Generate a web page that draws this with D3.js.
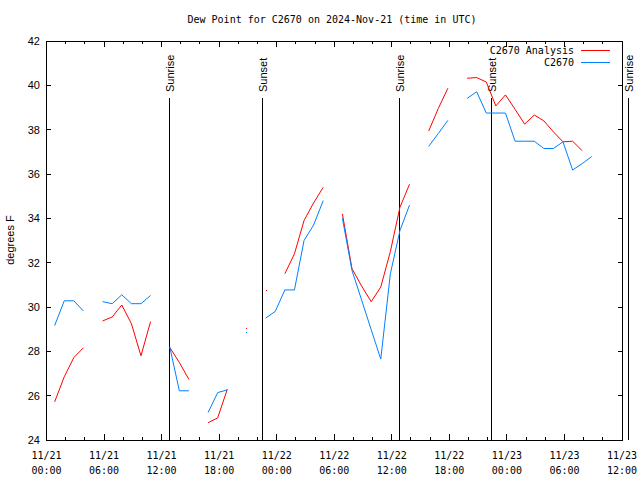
<!DOCTYPE html>
<html><head><meta charset="utf-8">
<script src="https://cdn.jsdelivr.net/npm/d3@7"></script>
<style>body{margin:0;background:#fff}svg{display:block}</style>
</head><body>
<svg id="c" width="640" height="480"></svg>
<script>
// Hourly observations at HH:51 UTC starting 2024-11-21 00:51
const startTime = "2024-11-21T00:51:00Z";
const analysis = [25.72,26.85,27.72,28.16,null,29.37,29.55,30.09,29.25,27.8,29.34,null,
  28.18,27.5,26.73,null,24.78,25.0,26.29,null,29.05,null,30.77,null,31.5,32.4,33.9,34.7,35.4,
  null,34.2,31.73,30.95,30.24,30.9,32.5,34.5,35.54,null,37.94,38.96,39.87,null,
  40.32,40.35,40.15,39.07,39.57,38.92,38.25,38.66,38.4,37.9,37.45,37.48,37.05,null];
const observed = [29.16,30.28,30.28,29.82,null,30.24,30.15,30.55,30.15,30.15,30.52,null,
  28.2,26.22,26.22,null,25.24,26.14,26.26,null,28.89,null,29.5,29.8,30.77,30.77,33.0,33.7,34.8,
  null,34.0,31.65,30.32,28.98,27.65,31.5,33.45,34.6,null,37.25,37.83,38.42,null,
  39.41,39.71,38.75,38.75,38.75,37.48,37.48,37.48,37.15,37.15,37.45,36.18,36.47,36.79];
const seriesNames = ["C2670 Analysis","C2670"];
const seriesColors = ["#ff0000","#0080ff"];
const eventNames = ["Sunrise","Sunset","Sunrise","Sunset","Sunrise"];
const eventTimes = ["2024-11-21T12:48:00Z","2024-11-21T22:30:00Z","2024-11-22T12:46:00Z","2024-11-22T22:20:00Z","2024-11-23T12:36:00Z"];
const yTicks = [24,26,28,30,32,34,36,38,40,42];
const title = "Dew Point for C2670 on 2024-Nov-21 (time in UTC)";
const yLabel = "degrees F";

const svg = d3.select("#c");
const L = 46.5, R = 622, T = 41, B = 440;
const t0 = new Date(startTime).getTime();
const times = analysis.map((_, i) => new Date(t0 + i * 3600e3));
const x = d3.scaleUtc().domain([new Date("2024-11-21T00:00:00Z"), new Date("2024-11-23T12:00:00Z")]).range([L, R]);
const y = d3.scaleLinear().domain([24, 42]).range([B, T]);
const mono = "'DejaVu Sans Mono', monospace";
const sans = "'Liberation Sans', Arial, sans-serif";

// title
svg.append("text").attr("x", 332).attr("y", 23).attr("text-anchor", "middle")
  .attr("font-family", mono).attr("font-size", 10).text(title);

// frame
svg.append("rect").attr("x", L).attr("y", T).attr("width", R - L).attr("height", B - T)
  .attr("fill", "none").attr("stroke", "#000").attr("shape-rendering", "crispEdges");

const g = svg.append("g").attr("shape-rendering", "crispEdges").attr("stroke", "#000");
// y ticks (inward, both sides)
yTicks.forEach(v => {
  g.append("line").attr("x1", L).attr("x2", L + 4).attr("y1", y(v)).attr("y2", y(v));
  g.append("line").attr("x1", R - 4).attr("x2", R).attr("y1", y(v)).attr("y2", y(v));
  svg.append("text").attr("x", 40).attr("y", y(v) + 4).attr("text-anchor", "end")
    .attr("font-family", sans).attr("font-size", 11).text(v);
});
// x ticks
const minor = x.ticks(d3.utcHour.every(2));
minor.forEach(d => {
  const major = d.getUTCHours() % 6 === 0;
  const len = major ? 6 : 3;
  g.append("line").attr("x1", x(d)).attr("x2", x(d)).attr("y1", B).attr("y2", B - len);
  g.append("line").attr("x1", x(d)).attr("x2", x(d)).attr("y1", T).attr("y2", T + len);
});
const major = x.ticks(d3.utcHour.every(6));
const fmtD = d3.utcFormat("%m/%d"), fmtH = d3.utcFormat("%H:%M");
major.forEach(d => {
  const t = svg.append("text").attr("text-anchor", "middle").attr("font-family", mono).attr("font-size", 10);
  t.append("tspan").attr("x", x(d)).attr("y", 459).text(fmtD(d));
  t.append("tspan").attr("x", x(d)).attr("y", 474).text(fmtH(d));
});

// y label
svg.append("text").attr("transform", "translate(14,240) rotate(-90)").attr("text-anchor", "middle")
  .attr("font-family", sans).attr("font-size", 11).text(yLabel);

// sunrise/sunset
eventTimes.forEach((s, i) => {
  const xx = Math.round(x(new Date(s))) + 0.5;
  svg.append("line").attr("x1", xx).attr("x2", xx).attr("y1", 98).attr("y2", B)
    .attr("stroke", "#000").attr("shape-rendering", "crispEdges");
  svg.append("text").attr("transform", `translate(${xx + 4},92) rotate(-90)`)
    .attr("font-family", sans).attr("font-size", 11).text(eventNames[i]);
});

// data lines
const line = d3.line().defined(d => d[1] != null).x(d => x(d[0])).y(d => y(d[1]));
[analysis, observed].forEach((vals, k) => {
  const pts = vals.map((v, i) => [times[i], v]);
  svg.append("path").attr("d", line(pts)).attr("fill", "none")
    .attr("stroke", seriesColors[k]).attr("stroke-width", 1);
  // isolated points
  pts.forEach((p, i) => {
    if (p[1] != null && (i === 0 || vals[i - 1] == null) && (i === vals.length - 1 || vals[i + 1] == null)) {
      svg.append("rect").attr("x", Math.round(x(p[0]))).attr("y", Math.round(y(p[1])))
        .attr("width", 1).attr("height", 1).attr("fill", seriesColors[k]);
    }
  });
});

// legend
seriesNames.forEach((n, i) => {
  const yy = 50 + i * 12;
  svg.append("text").attr("x", 574).attr("y", yy + 4).attr("text-anchor", "end")
    .attr("font-family", mono).attr("font-size", 10).text(n);
  svg.append("line").attr("x1", 581).attr("x2", 610).attr("y1", yy + 0.5).attr("y2", yy + 0.5)
    .attr("stroke", seriesColors[i]).attr("shape-rendering", "crispEdges");
});
</script>
</body></html>
